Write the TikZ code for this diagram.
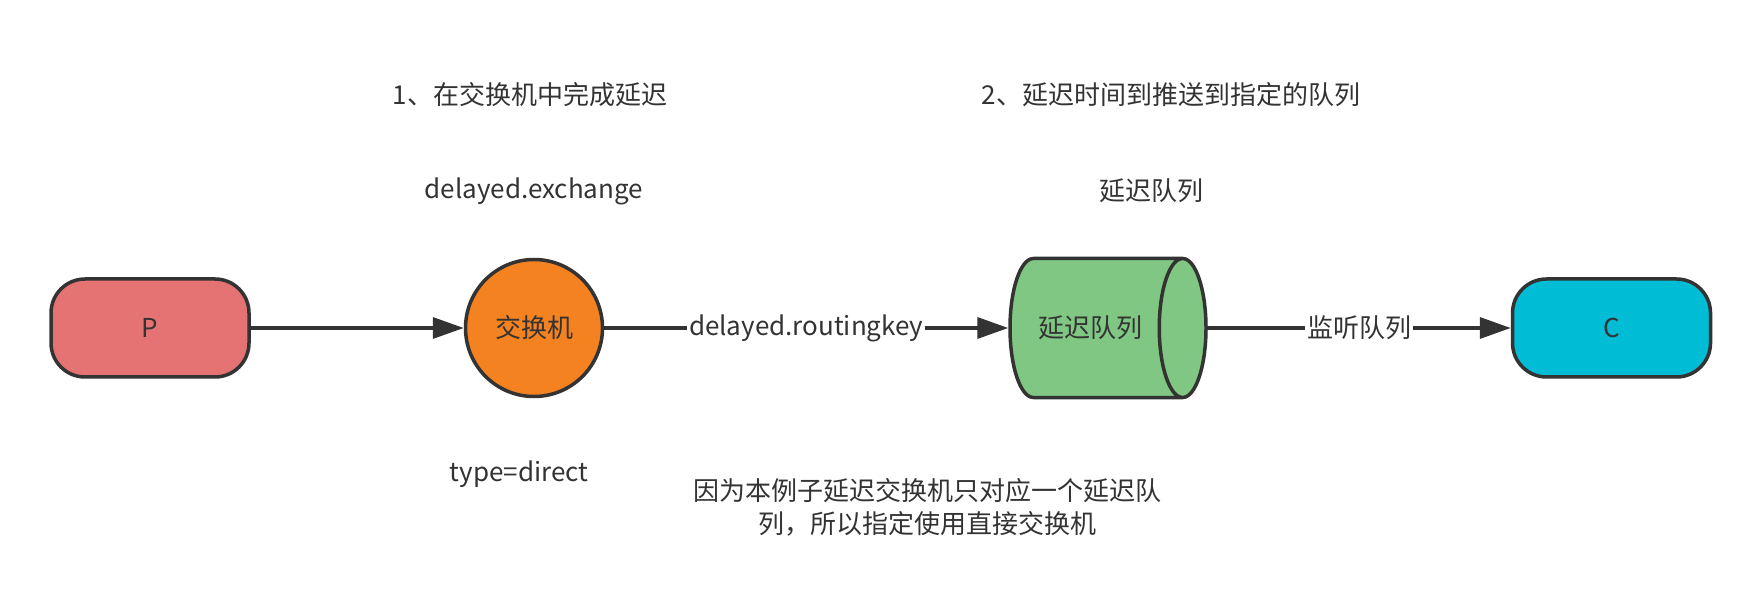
\documentclass[tikz,border=0pt]{standalone}
\usepackage{fontspec}
\setmainfont{Noto Sans CJK SC}
\usetikzlibrary{shapes,arrows.meta,positioning}

\definecolor{ink}{HTML}{333333}
\definecolor{producer-red}{HTML}{E57373}
\definecolor{exchange-orange}{HTML}{F58220}
\definecolor{queue-green}{HTML}{7FC782}
\definecolor{consumer-cyan}{HTML}{00BCD4}

\begin{document}
\begin{tikzpicture}[
    x=0.5pt, y=-0.5pt,
    font=\fontsize{13}{16.5}\selectfont,
    text=ink,
    endpoint/.style={rectangle, rounded corners=17pt, draw=ink, line width=1.75pt, minimum width=99pt, minimum height=49pt},
    exchange/.style={circle, draw=ink, fill=exchange-orange, line width=1.75pt, minimum size=68.5pt, inner sep=0pt},
    queue/.style={cylinder, draw=ink, fill=queue-green, line width=1.75pt, aspect=1.25, minimum width=69.5pt, minimum height=98pt},
    note/.style={inner sep=0pt, align=center},
    edgelabel/.style={fill=white, inner sep=1pt},
    arrow/.style={-{Triangle[length=15.5pt,width=10.5pt]}, draw=ink, line width=1.75pt}
]
\useasboundingbox (0,0) rectangle (1760,598);

% ============ FLUX ============
\node[endpoint, fill=producer-red] (producer) at (150,328) {P};
\node[exchange, right=106.5pt of producer] (delayed-exchange) {交换机};
\node[queue, right=202pt of delayed-exchange] (delay-queue) {延迟队列};
\node[endpoint, fill=consumer-cyan, right=151.5pt of delay-queue] (consumer) {C};

% ============ TEXTES ============
\node[note] (step-one) at (530,95) {1、在交换机中完成延迟};
\node[note] (step-two) at (1171,95) {2、延迟时间到推送到指定的队列};
\node[note] (exchange-name) at (534,191) {delayed.exchange};
\node[note] (queue-name) at (1151,191) {延迟队列};
\node[note] (exchange-type) at (519,474) {type=direct};
\node[note] (type-note) at (927,507) {因为本例子延迟交换机只对应一个延迟队\\列，所以指定使用直接交换机};

% ============ CONNEXIONS ============
\draw[arrow] (producer) -- (delayed-exchange);
\draw[arrow] (delayed-exchange) -- node[edgelabel] {delayed.routingkey} (delay-queue);
\draw[arrow] (delay-queue) -- node[edgelabel] {监听队列} (consumer);

\end{tikzpicture}
\end{document}
